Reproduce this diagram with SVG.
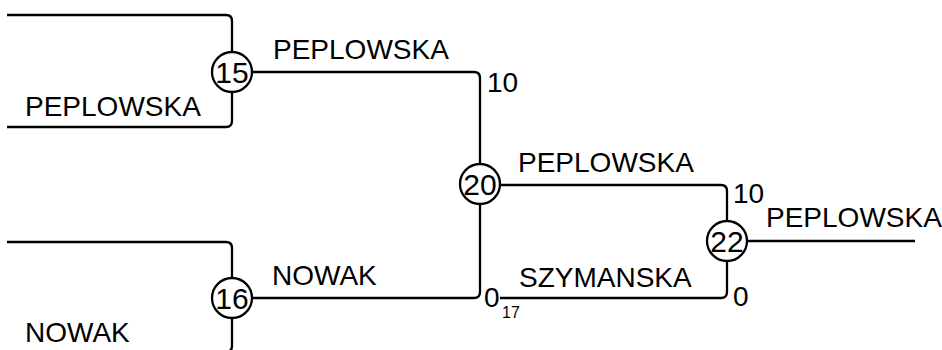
<svg xmlns="http://www.w3.org/2000/svg" width="942" height="350" viewBox="0 0 942 350">
<style>
.ln{fill:none;stroke:#000;stroke-width:2.3;stroke-linecap:butt;stroke-linejoin:round}
.nd{fill:#fff;stroke:#000;stroke-width:2.3}
.t{font-family:"Liberation Sans",Arial,sans-serif;font-size:28px;fill:#000}
.d{font-family:"Liberation Sans",Arial,sans-serif;font-size:30px;fill:#000;text-anchor:middle}
.s{font-family:"Liberation Sans",Arial,sans-serif;font-size:16px;fill:#000}
</style>
<rect width="942" height="350" fill="#fff"/>
<g id="connectors">
<path class="ln" d="M7,15 H226 Q232,15 232,21 V52"/>
<path class="ln" d="M232,92 V121 Q232,127 226,127 H7"/>
<path class="ln" d="M7,242 H226 Q232,242 232,248 V278"/>
<path class="ln" d="M232,318 V346 Q232,352 226,352 H7"/>
<path class="ln" d="M252,72 H474 Q480,72 480,78 V164"/>
<path class="ln" d="M252,298 H474 Q480,298 480,292 V204"/>
<path class="ln" d="M500,185 H721 Q727,185 727,191 V221"/>
<path class="ln" d="M500,298 H721 Q727,298 727,292 V261"/>
<path class="ln" d="M747,241 H915"/>
<text class="t" x="25" y="116">PEPLOWSKA</text>
<text class="t" x="25" y="342">NOWAK</text>
<text class="t" x="273" y="59">PEPLOWSKA</text>
<text class="t" x="272" y="285">NOWAK</text>
<text class="t" x="487" y="92">10</text>
<text class="t" x="484" y="307">0</text>
<text class="s" x="502" y="318">17</text>
<text class="t" x="518" y="172">PEPLOWSKA</text>
<text class="t" x="519" y="287">SZYMANSKA</text>
<text class="t" x="733" y="203">10</text>
<text class="t" x="733" y="306">0</text>
<text class="t" x="766" y="227">PEPLOWSKA</text>
</g>
<g id="node-15"><circle class="nd" cx="232" cy="72" r="20"/><text class="d" x="232" y="83">15</text></g>
<g id="node-16"><circle class="nd" cx="232" cy="298" r="20"/><text class="d" x="232" y="309">16</text></g>
<g id="node-20"><circle class="nd" cx="480" cy="184" r="20"/><text class="d" x="480" y="195">20</text></g>
<g id="node-22"><circle class="nd" cx="727" cy="241" r="20"/><text class="d" x="727" y="252">22</text></g>
</svg>
